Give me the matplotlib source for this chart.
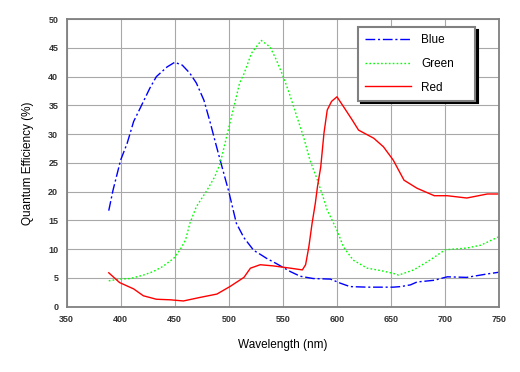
import numpy as np
import matplotlib.pyplot as plt

# values
blue_wl = [389, 393, 400, 406, 412, 418, 427, 433, 443, 450, 457, 464, 470, 477, 483, 487,
           492, 500, 507, 514, 523, 530, 535, 544, 557, 566, 578, 594, 603, 612, 628, 643,
           652, 659, 668, 674, 690, 702, 720, 739, 750]
blue_qe = [16.7, 20.3, 25.5, 28.4, 32.2, 34.5, 38.0, 40.0, 41.7, 42.5, 42.0, 40.6, 38.9, 35.9,
           31.9, 29.0, 25.5, 20.0, 14.5, 12.0, 9.8, 9.0, 8.4, 7.5, 6.1, 5.3, 4.9, 4.8, 4.1,
           3.5, 3.4, 3.4, 3.4, 3.5, 3.8, 4.3, 4.6, 5.2, 5.1, 5.7, 6.0]

green_wl = [389, 399, 409, 421, 430, 439, 449, 455, 460, 464, 470, 480, 487, 492, 498, 504,
            510, 514, 521, 530, 538, 544, 551, 557, 563, 569, 575, 582, 588, 591, 600, 606,
            615, 628, 640, 652, 657, 671, 686, 700, 720, 733, 750]
green_qe = [4.5, 4.8, 4.9, 5.5, 6.1, 7.0, 8.4, 9.9, 11.6, 14.5, 17.4, 20.3, 22.6, 24.9, 29.6,
            34.2, 38.9, 40.5, 44.1, 46.3, 45.2, 42.9, 39.7, 36.5, 33.0, 29.6, 25.5, 22.0, 18.6,
            16.8, 13.3, 10.4, 8.1, 6.7, 6.3, 5.8, 5.5, 6.4, 8.1, 9.9, 10.2, 10.7, 12.2]

red_wl = [389, 399, 412, 421, 433, 446, 458, 473, 489, 501, 514, 520, 529, 541, 557, 568,
          571, 574, 577, 580, 582, 585, 588, 591, 595, 600, 606, 614, 620, 634, 643, 652,
          662, 674, 690, 702, 720, 739, 750]
red_qe = [5.9, 4.2, 3.1, 1.9, 1.3, 1.2, 1.0, 1.6, 2.2, 3.5, 5.1, 6.7, 7.3, 7.1, 6.7, 6.4,
          7.3, 10.4, 14.5, 18.0, 20.9, 24.3, 30.2, 34.2, 35.7, 36.5, 34.8, 32.5, 30.7, 29.3,
          27.8, 25.5, 22.0, 20.6, 19.3, 19.3, 18.9, 19.6, 19.6]

plt.rcParams['font.family'] = ['Liberation Sans', 'DejaVu Sans']

fig = plt.figure(figsize=(5.2, 3.72), dpi=100)
ax = fig.add_axes([0.128, 0.1755, 0.832, 0.773])

ax.plot(blue_wl, blue_qe, color='#0000ff', lw=1.0, ls=(0, (7, 2, 1.5, 2)), label='Blue')
ax.plot(green_wl, green_qe, color='#00ff00', lw=1.0, ls=(0, (1.2, 1.6)), label='Green')
ax.plot(red_wl, red_qe, color='#ff0000', lw=1.0, ls='-', label='Red')

ax.set_xlim(350, 750)
ax.set_ylim(0, 50)
ax.set_xticks(np.arange(350, 751, 50))
ax.set_yticks(np.arange(0, 51, 5))
ax.grid(True, color='#a8a8a8', lw=0.8)
ax.set_axisbelow(True)
ax.tick_params(length=0, labelsize=6.5, labelcolor='#333333', pad=6)
for lab in ax.get_xticklabels() + ax.get_yticklabels():
    lab.set_fontweight('bold')
for sp in ax.spines.values():
    sp.set_color('#808080')
    sp.set_linewidth(1.3)

ax.set_xlabel('Wavelength (nm)', fontsize=8.5, labelpad=11)
ax.set_ylabel('Quantum Efficiency (%)', fontsize=8.5, labelpad=10)

leg = ax.legend(loc='upper left', bbox_to_anchor=(0.673, 0.973, 0.2706, 0), mode='expand',
                borderaxespad=0, fontsize=8.5, handlelength=3.9, handletextpad=0.9,
                labelspacing=1.0, borderpad=0.6, fancybox=False, framealpha=1,
                shadow={'color': 'black', 'alpha': 1})
leg.get_frame().set_edgecolor('#808080')
leg.get_frame().set_linewidth(1.5)

fig.savefig('out.png', dpi=100)
